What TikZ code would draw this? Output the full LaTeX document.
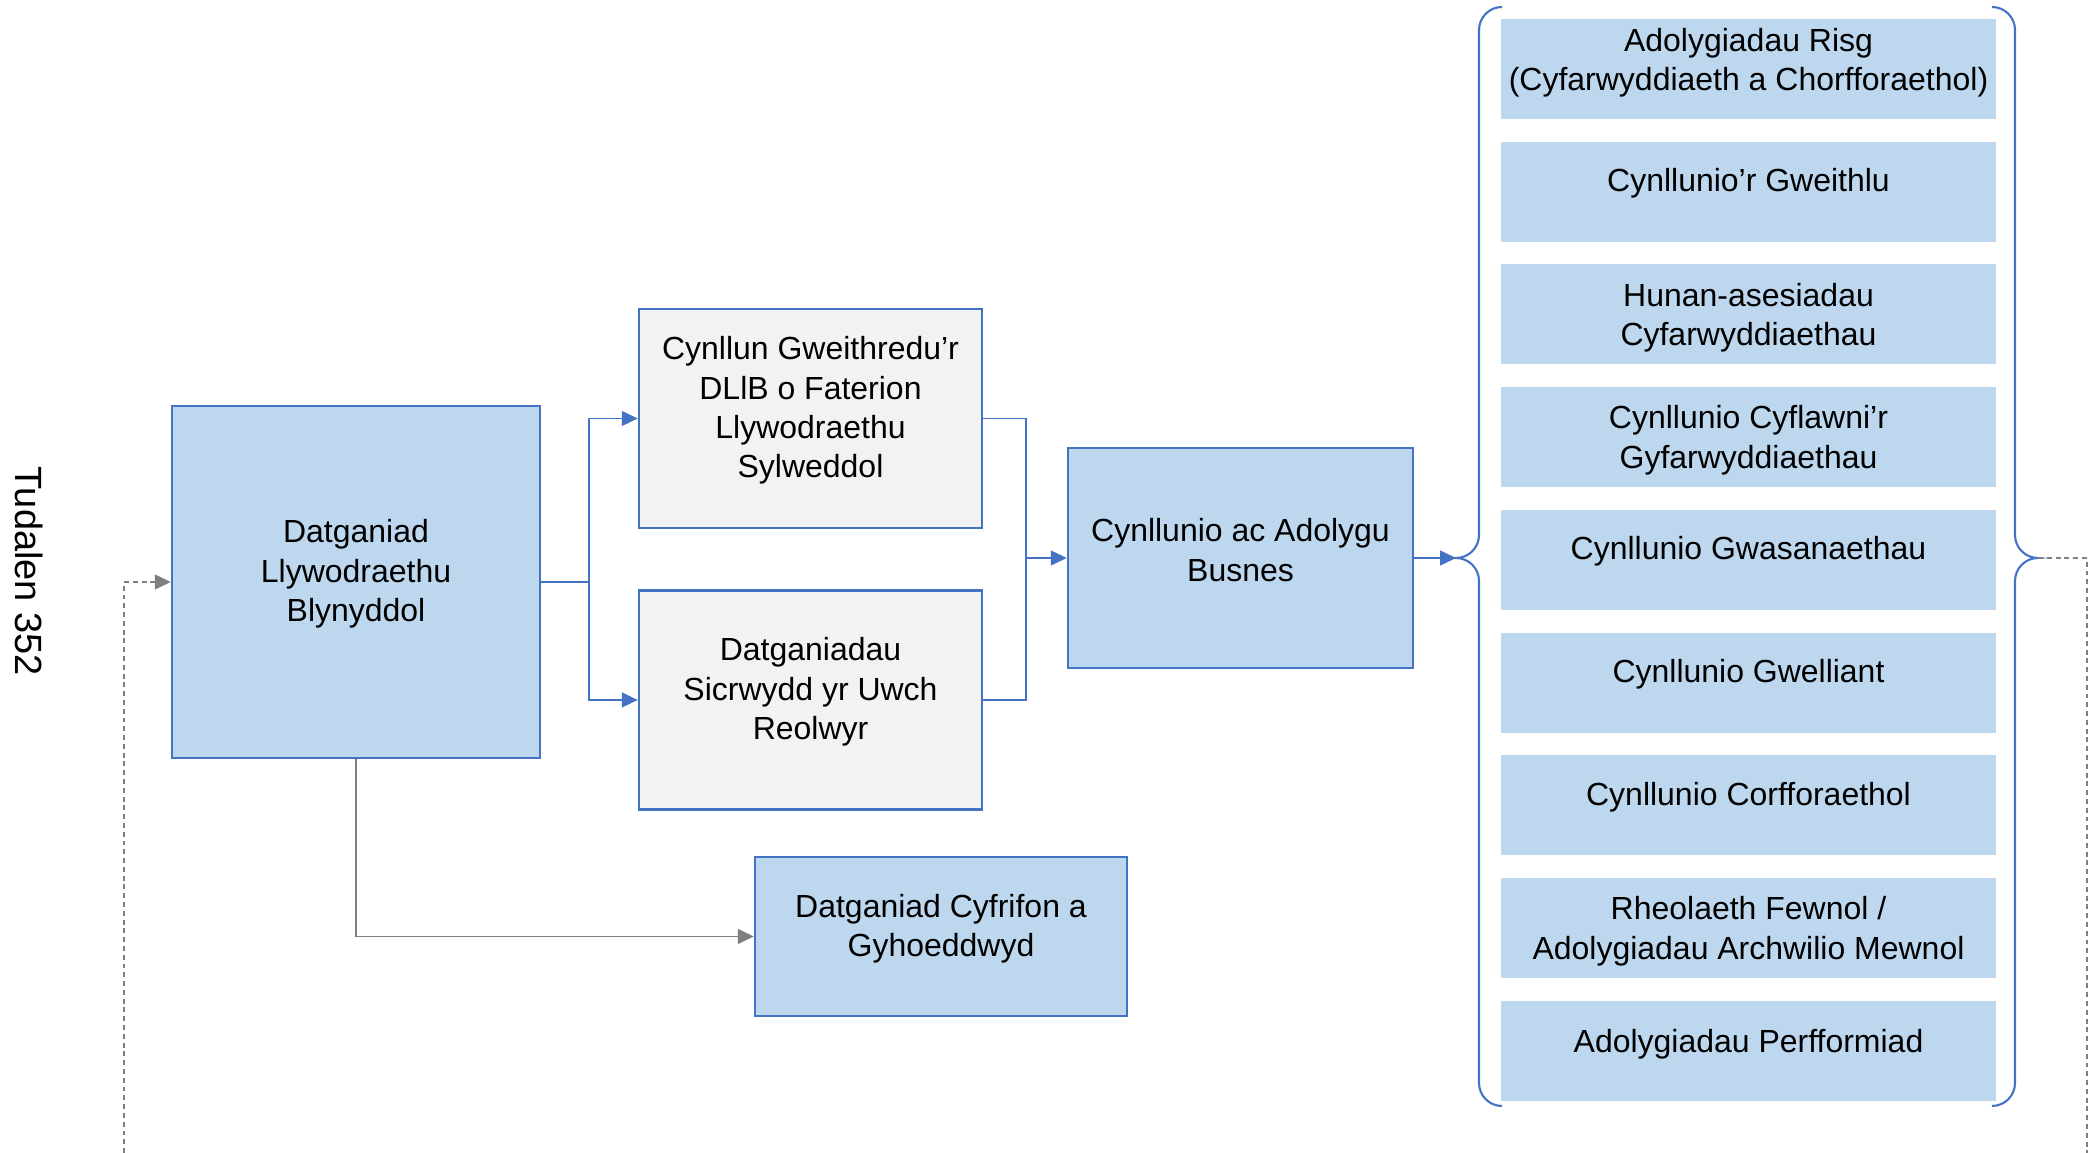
\documentclass[tikz,border=0pt]{standalone}
\usepackage{fontspec}
\setmainfont{Liberation Sans}
\usetikzlibrary{arrows.meta, positioning, calc}
\definecolor{boxBlue}{RGB}{189,215,238}
\definecolor{boxGrey}{RGB}{242,242,242}
\definecolor{lineBlue}{RGB}{68,114,196}
\definecolor{loopGrey}{RGB}{127,127,127}
\tikzstyle{statement} = [rectangle, draw=lineBlue, line width=0.7pt, fill=boxBlue, inner sep=0pt]
\tikzstyle{assurance} = [rectangle, draw=lineBlue, line width=0.7pt, fill=boxGrey, inner sep=0pt, minimum width=3.43cm, minimum height=2.19cm]
\tikzstyle{review} = [rectangle, fill=boxBlue, minimum width=4.95cm, minimum height=1cm, inner sep=0pt]
\tikzstyle{bluelink} = [draw=lineBlue, line width=0.4pt]
\tikzstyle{greylink} = [draw=loopGrey, line width=0.4pt]
\tikzstyle{brace} = [draw=lineBlue, line width=0.6pt]
\tikzstyle{flowtip} = [-{Triangle[length=1.6mm, width=1.5mm]}]
\tikzset{boxtext/.style 2 args={label={[align=center, yshift=#1]center:#2}}}

\begin{document}
\begin{tikzpicture}[font=\fontsize{9.1}{11.2}\selectfont]
\useasboundingbox (0,0) rectangle (20.96,-11.53);
\node (page) [rotate=-90, font=\fontsize{10.8}{13}\selectfont] at (0.29,-5.71) {Tudalen 352};

% statements
\node (ann) [statement, minimum width=3.68cm, minimum height=3.52cm, boxtext={0.08cm}{Datganiad\\Llywodraethu\\Blynyddol}] at (3.56,-5.82) {};
\node (plan) [assurance, boxtext={0.08cm}{Cynllun Gweithredu’r\\DLlB o Faterion\\Llywodraethu\\Sylweddol}] at (8.105,-4.185) {};
\node (assur) [assurance, below=0.6cm of plan, boxtext={0.08cm}{Datganiadau\\Sicrwydd yr Uwch\\Reolwyr}] {};
\node (busnes) [statement, minimum width=3.45cm, minimum height=2.2cm, boxtext={0.08cm}{Cynllunio ac Adolygu\\Busnes}] at (12.405,-5.58) {};
\node (accounts) [statement, minimum width=3.72cm, minimum height=1.59cm, boxtext={0.08cm}{Datganiad Cyfrifon a\\Gyhoeddwyd}] at (9.41,-9.365) {};

% reviews
\foreach \txt/\up [count=\i from 0] in {{Adolygiadau Risg\\(Cyfarwyddiaeth a Chorfforaethol)}/0.06cm,
    {Cynllunio’r Gweithlu}/0.085cm, {Hunan-asesiadau\\Cyfarwyddiaethau}/-0.03cm,
    {Cynllunio Cyflawni’r\\Gyfarwyddiaethau}/-0.03cm, {Cynllunio Gwasanaethau}/0.085cm,
    {Cynllunio Gwelliant}/0.085cm, {Cynllunio Corfforaethol}/0.085cm,
    {Rheolaeth Fewnol /\\Adolygiadau Archwilio Mewnol}/-0.03cm, {Adolygiadau Perfformiad}/0.07cm}
  \node (rev\i) [review, boxtext={\up}{\txt}] at (17.485,{-0.69-\i*1.2275}) {};

% braces round the reviews
\coordinate (ltip) at (14.56,-5.58);
\coordinate (rtip) at (20.38,-5.58);
\draw[brace] (15.02,-0.07) arc[start angle=90, end angle=180, radius=0.23] -- (14.79,-5.35)
  arc[start angle=0, end angle=-90, radius=0.23] arc[start angle=90, end angle=0, radius=0.23]
  -- (14.79,-10.83) arc[start angle=180, end angle=270, radius=0.23];
\draw[brace] (19.92,-0.07) arc[start angle=90, end angle=0, radius=0.23] -- (20.15,-5.35)
  arc[start angle=180, end angle=270, radius=0.23] arc[start angle=90, end angle=180, radius=0.23]
  -- (20.15,-10.83) arc[start angle=0, end angle=-90, radius=0.23];

% connectors
\coordinate (split) at (5.89,-5.82);
\coordinate (join) at (10.26,-5.58);
\draw[bluelink] (ann.east) -- (split);
\draw[bluelink, flowtip] (split) |- (plan.west);
\draw[bluelink, flowtip] (split) |- (assur.west);
\draw[bluelink] (plan.east) -| (join);
\draw[bluelink] (assur.east) -| (join);
\draw[bluelink, flowtip] (join) -- (busnes.west);
\draw[bluelink, flowtip] (busnes.east) -- (ltip);
\draw[greylink, flowtip] (ann.south) |- (accounts.west);

% loop back under the page
\coordinate (loopR) at (20.87,-11.53);
\coordinate (loopL) at (1.24,-11.53);
\draw[greylink, dash pattern=on 1.4pt off 1.1pt] (rtip) -| (loopR);
\draw[greylink, dash pattern=on 1.4pt off 1.1pt, flowtip] (loopL) |- (ann.west);
\end{tikzpicture}
\end{document}
